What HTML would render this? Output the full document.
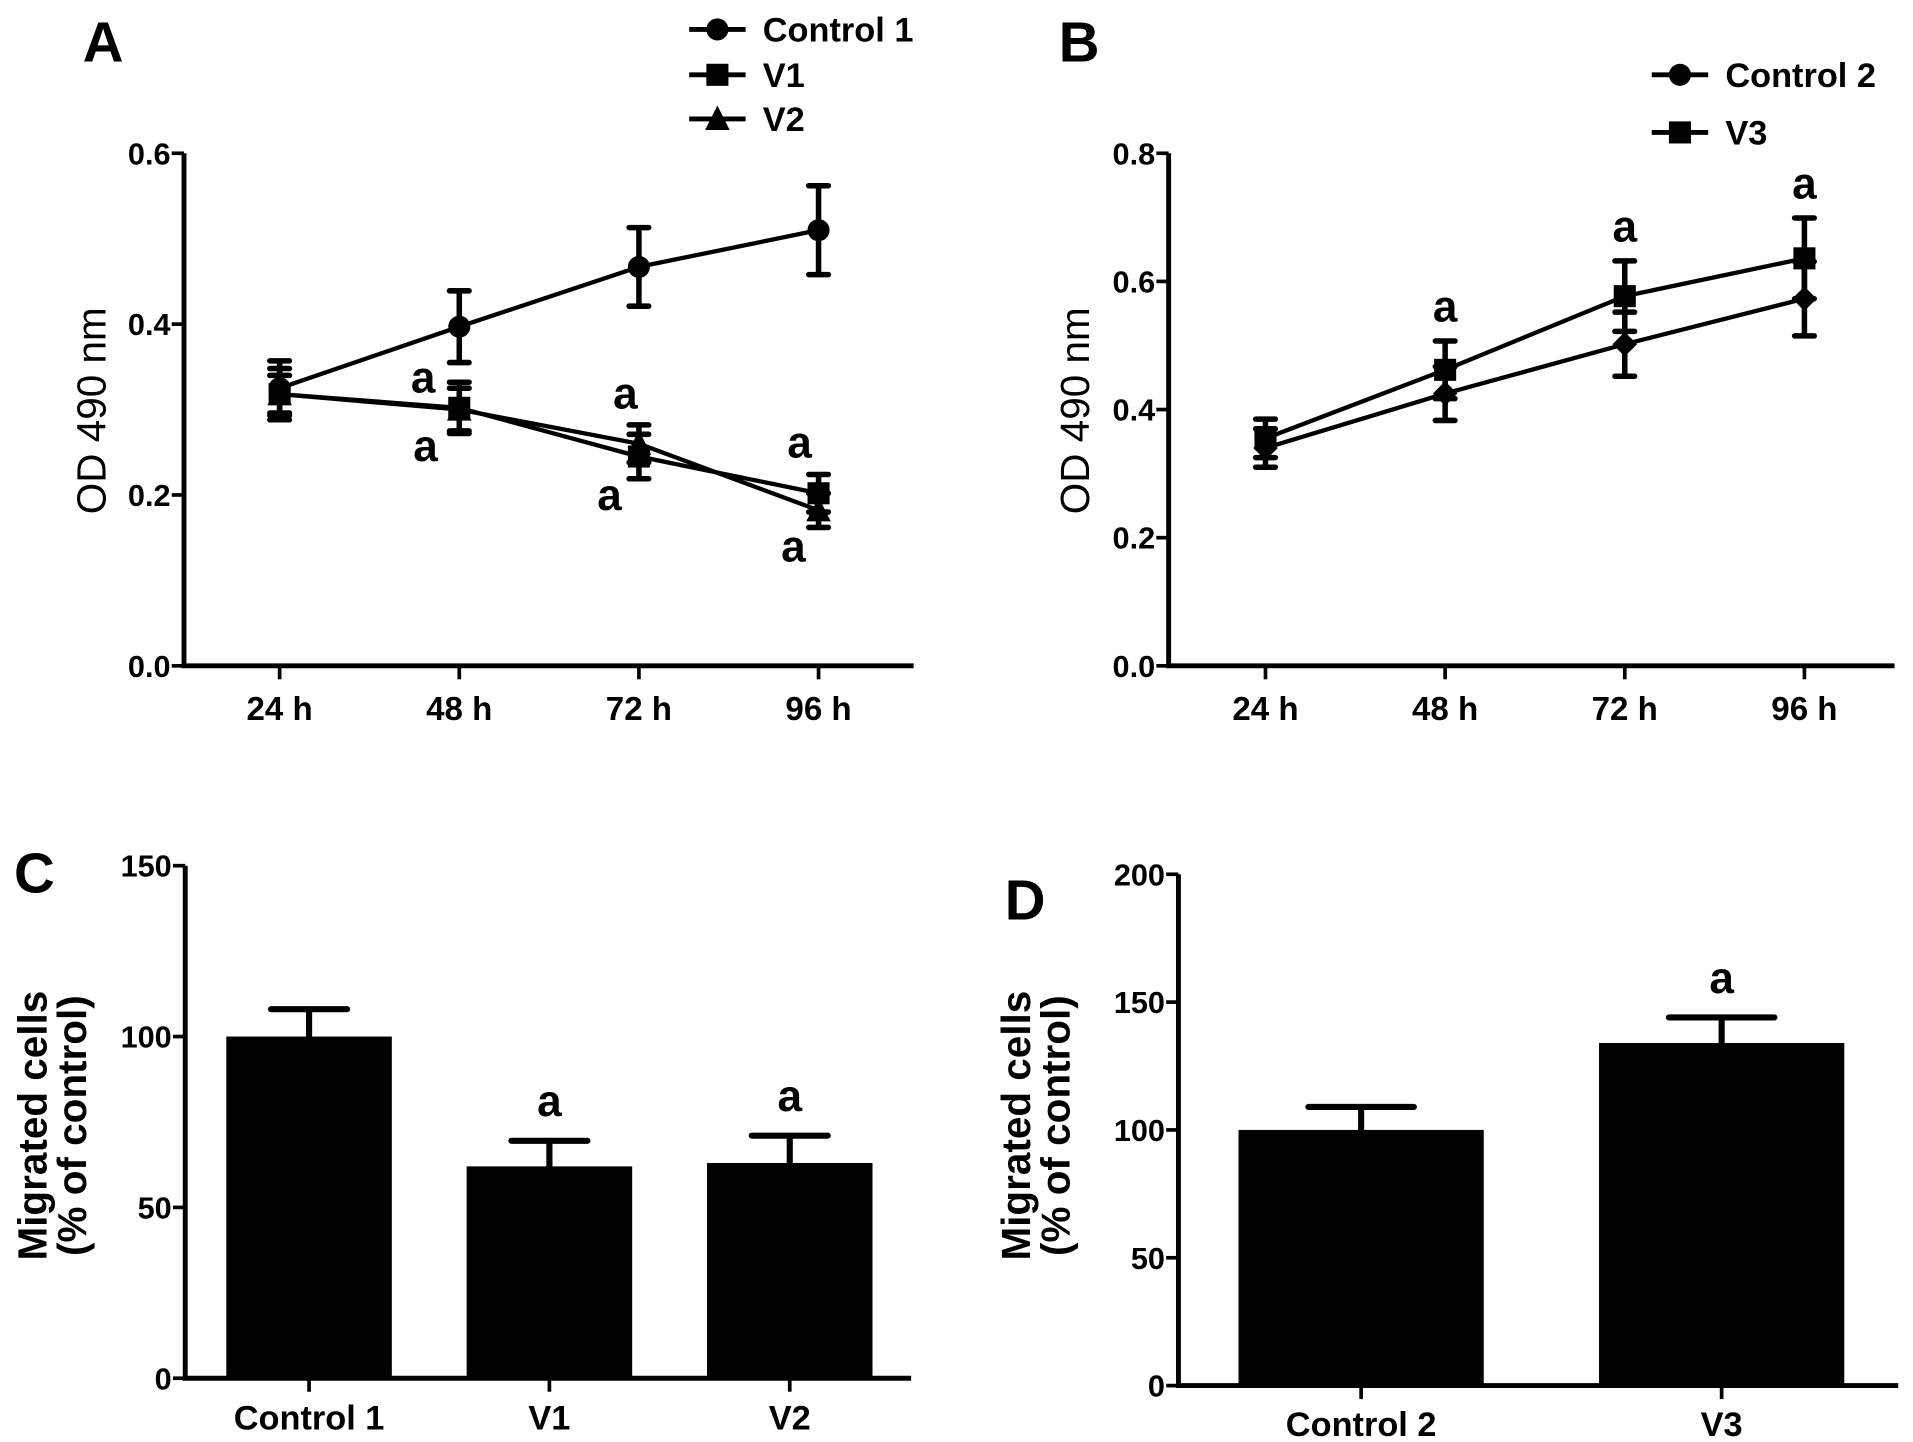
<!DOCTYPE html>
<html><head><meta charset="utf-8"><style>
html,body{margin:0;padding:0;background:#fff;}
svg{display:block;font-family:"Liberation Sans",Arial,sans-serif;}
</style></head><body>
<svg id="fig" width="1913" height="1442" viewBox="0 0 1560 1176" xmlns="http://www.w3.org/2000/svg">
<rect width="1560" height="1176" fill="#fff"/>
<g id="root"></g>
</svg>
<script>
// Panel A data
const catsA = ["24 h","48 h","72 h","96 h"];
const ctrl1 = [0.325, 0.397, 0.467, 0.510];
const ctrl1Err = [0.032, 0.042, 0.046, 0.052];
const v1 = [0.318, 0.302, 0.245, 0.202];
const v1Err = [0.030, 0.030, 0.026, 0.022];
const v2 = [0.318, 0.300, 0.260, 0.182];
const v2Err = [0.022, 0.025, 0.022, 0.020];
const ticksA = [0.0, 0.2, 0.4, 0.6];
const tickLabelsA = ["0.0","0.2","0.4","0.6"];
// Panel B data
const catsB = ["24 h","48 h","72 h","96 h"];
const ctrl2 = [0.340, 0.425, 0.502, 0.573];
const ctrl2Err = [0.030, 0.042, 0.050, 0.058];
const v3 = [0.355, 0.462, 0.577, 0.636];
const v3Err = [0.030, 0.045, 0.055, 0.063];
const ticksB = [0.0, 0.2, 0.4, 0.6, 0.8];
const tickLabelsB = ["0.0","0.2","0.4","0.6","0.8"];
// Panel C data
const catsC = ["Control 1","V1","V2"];
const valsC = [100, 62, 63];
const errC = [8, 7.5, 8];
const ticksC = [0, 50, 100, 150];
// Panel D data
const catsD = ["Control 2","V3"];
const valsD = [100, 134];
const errD = [9, 10];
const ticksD = [0, 50, 100, 150, 200];

const NS = "http://www.w3.org/2000/svg";
const root = document.getElementById("root");
function el(tag, attrs, parent, text){
  const e = document.createElementNS(NS, tag);
  for (const k in attrs) e.setAttribute(k, attrs[k]);
  if (text !== undefined) e.textContent = text;
  (parent || root).appendChild(e);
  return e;
}
function lin(d0,d1,r0,r1){return v => r0 + (v-d0)/(d1-d0)*(r1-r0);}

function axes(g, x0, x1, yTop, yBot, yScale, ticks, labels, catX, cats, labY, fs){
  let a = el("line",{x1:x0,y1:yTop,x2:x0,y2:yBot,stroke:"#000","stroke-width":4},g);
  
  
  a = el("line",{x1:x0-2,y1:yBot,x2:x1,y2:yBot,stroke:"#000","stroke-width":4},g);
  
  
  ticks.forEach((t,i)=>{
    const y = yScale(t);
    let tk = el("line",{x1:x0-10,y1:y,x2:x0,y2:y,stroke:"#000","stroke-width":3},g);
    
    
    let tl = el("text",{x:x0-11,y:y+9,"text-anchor":"end","font-size":25,"font-weight":"bold"},g,labels[i]);
    
    
  });
  cats.forEach((c,i)=>{
    const x = catX(i);
    let tk = el("line",{x1:x,y1:yBot,x2:x,y2:yBot+11,stroke:"#000","stroke-width":3},g);
    
    
    let tl = el("text",{x:x,y:labY,"text-anchor":"middle","font-size":fs,"font-weight":"bold"},g,c);
    
    
  });
}
function marker(g, type, x, y, s){
  let m;
  if (type==="circle") m = el("circle",{cx:x,cy:y,r:s},g);
  else if (type==="square") m = el("rect",{x:x-s,y:y-s,width:2*s,height:2*s},g);
  else if (type==="triangle") m = el("polygon",{points:`${x},${y-s-2} ${x-s-1},${y+s} ${x+s+1},${y+s}`},g);
  else m = el("polygon",{points:`${x},${y-s-1} ${x+s+1},${y} ${x},${y+s+1} ${x-s-1},${y}`},g);
  m.setAttribute('fill','#000');
  return m;
}
function series(g, name, vals, errs, xs, ys, type){
  const sg = el("g",{},g);
  
  
  const pts = vals.map((v,i)=>`${xs(i)},${ys(v)}`).join(" ");
  el("polyline",{points:pts,fill:"none",stroke:"#000","stroke-width":3.5},sg);
  vals.forEach((v,i)=>{
    const x = xs(i), yh = ys(v+errs[i]), yl = ys(v-errs[i]);
    const eb = el("path",{d:`M${x},${yh}V${yl}M${x-8},${yh}H${x+8}M${x-8},${yl}H${x+8}`,stroke:"#000","stroke-width":4.5,fill:"none","stroke-linecap":"round"},sg);
    
    
    const m = marker(sg, type, x, ys(v), 9);
    
    
  });
}
function txt(g, name, x, y, s, fs, anchor, weight, rot){
  const a = {x:x,y:y,"font-size":fs,"text-anchor":anchor||"middle","font-weight":weight||"bold"};
  if (rot) a.transform = `rotate(-90 ${x} ${y})`;
  const t = el("text",a,g,s);
  
  
  return t;
}
function legendEntry(g, x, y, type, label){
  const lg = el("g",{},g);
  
  
  el("line",{x1:x,y1:y,x2:x+46,y2:y,stroke:"#000","stroke-width":4},lg);
  marker(lg,type,x+23,y,9);
  el("text",{x:x+60,y:y+10,"font-size":28,"font-weight":"bold"},lg,label);
}

// ---- Panel A ----
(function(){
  const g = el("g",{});  
  const ys = lin(0,0.6,543,125);
  const xs = i => 228 + i*146.5;
  axes(g,150,745,125,543,ys,ticksA,tickLabelsA,xs,catsA,587,27);
  txt(g,"panel-label-a",84,50,"A",46);
  txt(g,"y-axis-title",86,335,"OD 490 nm",33,"middle","normal",true);
  series(g,"series-v2",v2,v2Err,xs,ys,"triangle");
  series(g,"series-v1",v1,v1Err,xs,ys,"square");
  series(g,"series-control-1",ctrl1,ctrl1Err,xs,ys,"circle");
  const lg = el("g",{},g);  
  legendEntry(lg,562,24,"circle","Control 1");
  legendEntry(lg,562,61,"square","V1");
  legendEntry(lg,562,97,"triangle","V2");
  [[345,320],[347,376],[510,333],[497,416],[652,373],[647,458]].forEach(p=>txt(g,"significance-mark",p[0],p[1],"a",36));
})();

// ---- Panel B ----
(function(){
  const g = el("g",{});  
  const ys = lin(0,0.8,543,125);
  const xs = i => 1032 + i*146.5;
  axes(g,953,1545,125,543,ys,ticksB,tickLabelsB,xs,catsB,587,27);
  txt(g,"panel-label-b",880,50,"B",46);
  txt(g,"y-axis-title",888,335,"OD 490 nm",33,"middle","normal",true);
  series(g,"series-control-2",ctrl2,ctrl2Err,xs,ys,"diamond");
  series(g,"series-v3",v3,v3Err,xs,ys,"square");
  const lg = el("g",{},g);  
  legendEntry(lg,1347,61,"circle","Control 2");
  legendEntry(lg,1347,108,"square","V3");
  [1,2,3].forEach(i=>txt(g,"significance-mark",xs(i),ys(v3[i]+v3Err[i])-16,"a",36));
})();

function barPanel(name, x0, x1, yTop, yBot, maxV, ticks, cats, vals, errs, centers, bw, cap, labY, letter, lx, ly, tx, marks){
  const g = el("g",{});  
  const ys = lin(0,maxV,yBot,yTop);
  const xs = i => centers[0] + i*(centers[1]-centers[0]);
  vals.forEach((v,i)=>{
    const x = xs(i);
    const b = el("rect",{x:x-bw/2,y:ys(v),width:bw,height:yBot-ys(v),fill:"#000"},g);
    
    
    const yh = ys(v+errs[i]);
    const e = el("path",{d:`M${x},${ys(v)}V${yh}M${x-cap/2},${yh}H${x+cap/2}`,stroke:"#000","stroke-width":5,fill:"none","stroke-linecap":"round"},g);
    
    
    if (marks[i]) txt(g,"significance-mark",x,yh-20,"a",36);
  });
  axes(g,x0,x1,yTop,yBot,ys,ticks,ticks.map(String),xs,cats,labY,28);
  txt(g,"panel-label-"+letter.toLowerCase(),lx,ly,letter,46);
  txt(g,"y-axis-title",tx,918,"Migrated cells",33,"middle","bold",true);
  txt(g,"y-axis-title-line-2",tx+32,918,"(% of control)",33,"middle","bold",true);
}
barPanel("panel-c-bar-chart",151,743,706,1124,150,ticksC,catsC,valsC,errC,[252,448],135,62,1166,"C",28,728,38,[false,true,true]);
barPanel("panel-d-bar-chart",961,1548,713,1130,200,ticksD,catsD,valsD,errD,[1110,1404],200,86,1171,"D",836,750,840,[false,true]);
</script>
</body></html>
